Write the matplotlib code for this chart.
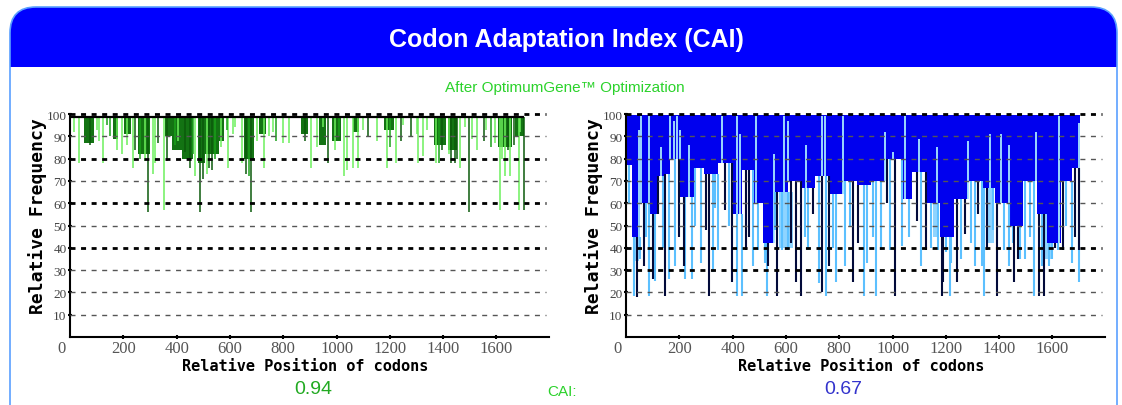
import numpy as np
import matplotlib.pyplot as plt
from matplotlib.patches import FancyBboxPatch, Rectangle
from matplotlib.transforms import IdentityTransform, blended_transform_factory

W, H = 1122, 406

# ---- values ----
x_ticks = [200, 400, 600, 800, 1000, 1200, 1400, 1600]
y_ticks = [10, 20, 30, 40, 50, 60, 70, 80, 90, 100]
cai_optimized = 0.94
cai_native = 0.67

# left panel (after optimization): dense clusters hanging from the top
left_blob_start = [53, 160, 202, 254, 356, 382, 422, 482, 508, 560, 651, 709, 865, 936, 982, 1060, 1177, 1365, 1417, 1606, 1671]
left_blob_end = [91, 179, 228, 300, 382, 422, 462, 508, 560, 579, 690, 735, 891, 962, 1015, 1086, 1216, 1411, 1450, 1658, 1705]
left_blob_low = [87, 89, 91, 82, 90, 84, 80, 78, 82, 88, 80, 91, 91, 86, 88, 92, 93, 86, 84, 85, 90]

# left panel single codons: position, lowest value, shade (d=dark, m=mid, l=light)
left_spike_pos = [293, 351, 488, 680, 1496, 1613, 1684, 1705,
                  33, 124, 176, 196, 235, 261, 319, 332, 404, 449, 469, 521, 534,
                  592, 644, 670, 729, 774, 800, 820, 904, 969, 995, 1028, 1060, 1080,
                  1119, 1190, 1222, 1281, 1307, 1326, 1372, 1385, 1430, 1443, 1463,
                  1528, 1554, 1593, 1632, 1645, 1651,
                  15, 100, 140, 590, 620, 760, 950, 1100, 1250, 1340, 1480, 1560, 1690,
                  75, 110, 150, 215, 245, 280, 310, 365, 395, 430, 460, 500, 515, 545,
                  565, 610, 660, 700, 745, 880, 925, 1010, 1040, 1150, 1200, 1240, 1300,
                  1395, 1420, 1450, 1510, 1580, 1620, 1665]
left_spike_low = [56, 57, 56, 56, 56, 57, 57, 57,
                  78, 78, 84, 82, 76, 80, 78, 87, 88, 76, 72, 76, 75,
                  76, 78, 72, 76, 88, 87, 87, 76, 78, 84, 72, 76, 76,
                  90, 76, 78, 90, 78, 81, 78, 78, 78, 78, 76,
                  84, 88, 87, 72, 84, 72,
                  92, 93, 95, 93, 94, 92, 94, 93, 95, 93, 94, 93, 92,
                  86, 88, 90, 86, 84, 79, 73, 79, 86, 83, 82, 71, 73, 80,
                  85, 91, 73, 88, 90, 88, 85, 90, 75, 88, 85, 88, 91,
                  84, 82, 80, 89, 85, 80, 86]
left_spike_kind = ['d', 'l', 'd', 'd', 'd', 'l', 'l', 'd',
                   'l', 'l', 'l', 'l', 'l', 'm', 'l', 'd', 'l', 'd', 'l', 'd', 'd',
                   'l', 'l', 'm', 'l', 'm', 'l', 'l', 'l', 'd', 'l', 'l', 'l', 'l',
                   'd', 'l', 'l', 'd', 'l', 'l', 'l', 'm', 'd', 'd', 'l',
                   'l', 'd', 'l', 'l', 'd', 'l',
                   'l', 'l', 'm', 'm', 'l', 'l', 'l', 'l', 'l', 'l', 'l', 'l', 'l',
                   'd', 'l', 'm', 'l', 'd', 'l', 'l', 'd', 'm', 'd', 'm', 'd', 'l', 'm',
                   'l', 'l', 'd', 'l', 'l', 'd', 'l', 'm', 'l', 'l', 'm', 'd', 'l',
                   'd', 'l', 'd', 'l', 'm', 'l', 'd']

# right panel (native gene): solid band edges and its lower edge
right_band_edges = [4, 21, 53, 86, 118, 144, 164, 203, 255, 294, 346, 398, 437, 476, 515, 554, 606,
                    658, 710, 762, 814, 866, 918, 970, 1035, 1074, 1126, 1178, 1230, 1282, 1334,
                    1386, 1438, 1490, 1542, 1581, 1633, 1672, 1705]
right_band_low = [77, 45, 60, 55, 72, 73, 80, 63, 76, 73, 78, 55, 75, 60, 42, 65, 70, 67, 72, 64,
                  70, 68, 70, 80, 62, 74, 60, 45, 62, 70, 67, 60, 50, 70, 55, 42, 70, 76]

# right panel pale patches just under the band
right_pale_start = [30, 575, 1150, 1350, 1560]
right_pale_end = [50, 625, 1175, 1380, 1600]
right_pale_low = [34, 40, 45, 42, 35]

# right panel codons dropping below the band
right_down_pos = [31, 40, 53, 66, 86, 101, 109, 148, 161, 183, 216, 222, 248, 281, 313, 326, 346,
                  372, 398, 417, 437, 450, 476, 495, 528, 534, 567, 586, 606, 638, 655, 684, 723,
                  736, 751, 762, 788, 820, 853, 894, 905, 937, 957, 989, 1011, 1035, 1106, 1126,
                  1171, 1184, 1191, 1214, 1221, 1243, 1256, 1308, 1334, 1344, 1353, 1392, 1418,
                  1435, 1457, 1477, 1496, 1529, 1548, 1561, 1570, 1587, 1600, 1620, 1639, 1672,
                  1698, 1700,
                  10, 75, 120, 140, 198, 260, 300, 335, 385, 460, 520, 560, 620, 670, 700, 775,
                  840, 870, 925, 980, 1060, 1090, 1145, 1200, 1270, 1295, 1320, 1375, 1450,
                  1470, 1515, 1610, 1650, 1685]
right_down_low = [18.6, 18, 35, 32, 18.6, 26, 25, 18.6, 26, 32, 32, 26, 26, 33, 18.6, 29, 39,
                  57, 24.5, 18.6, 18.6, 39, 32, 39, 18.6, 32, 18.6, 39, 39, 24.5, 18.6, 39, 24,
                  20, 18.6, 32, 24.5, 32, 24.5, 18.6, 33, 18.6, 39, 39, 18.6, 41, 32, 39,
                  39, 18.6, 24.5, 18.6, 33, 24.5, 35, 32, 32, 18.6, 39, 18.6, 39,
                  32, 24.5, 35, 35, 18.6, 18.6, 32, 18.6, 32, 35, 39, 39, 33,
                  24.5, 39,
                  60, 45, 55, 40, 45, 50, 48, 58, 50, 45, 33, 48, 42, 45, 55, 40,
                  50, 42, 45, 60, 45, 52, 40, 38, 46, 42, 55, 48, 42,
                  35, 45, 40, 50, 45]
right_down_kind = ['l', 'd', 'l', 'd', 'l', 'd', 'l', 'd', 'l', 'l', 'd', 'l', 'l', 'l', 'd', 'l', 'l',
                   'd', 'd', 'l', 'l', 'd', 'l', 'l', 'l', 'd', 'd', 'l', 'l', 'd', 'd', 'l', 'l',
                   'd', 'l', 'd', 'l', 'l', 'd', 'l', 'l', 'l', 'l', 'l', 'd', 'l', 'l', 'd',
                   'l', 'd', 'd', 'l', 'l', 'd', 'l', 'l', 'l', 'l', 'd', 'd', 'l',
                   'l', 'd', 'l', 'l', 'l', 'd', 'l', 'd', 'l', 'l', 'l', 'd', 'l',
                   'l', 'd',
                   'l', 'l', 'd', 'l', 'd', 'l', 'd', 'l', 'l', 'd', 'l', 'l', 'd', 'l', 'd', 'l',
                   'l', 'd', 'l', 'd', 'l', 'd', 'l', 'l', 'd', 'l', 'd', 'l', 'l',
                   'd', 'l', 'd', 'l', 'd']

# right panel codons reaching back up into the band
right_up_pos = [47, 57, 86, 131, 166, 179, 190, 203, 235, 359, 417, 426, 489, 554, 593, 608, 677,
                736, 746, 814, 970, 1002, 1048, 1100, 1165, 1282, 1366, 1405, 1438, 1539, 1626, 1700]
right_up_high = [93, 99, 99, 85, 99, 97, 99, 93, 86, 99, 99, 91, 99, 82, 99, 97, 86,
                 99, 99, 99, 92, 83, 99, 89, 85, 88, 91, 91, 86, 92, 99, 96]

left_bold_grid = [100, 80, 60, 40]
right_bold_grid = [100, 40, 30]

XMAX = 1797
GRID_END = 1785
LEFT_TOP = 98.8
RIGHT_TOP = 99.5

greens = {'d': '#0b5a0b', 'm': '#1aa01a', 'l': '#6cf05c'}
blues = {'d': '#020a3a', 'l': '#5cc0ff'}

mono = ['DejaVu Sans Mono']
serif = ['Liberation Serif', 'DejaVu Serif']
sans = ['Liberation Sans', 'DejaVu Sans']

fig = plt.figure(figsize=(W / 100, H / 100), dpi=100)

# blue banner, white body, light frame outline (all behind the axes)
banner = FancyBboxPatch((10, H - 110), 1107, 102, boxstyle='round,pad=0,rounding_size=26',
                        facecolor='#0000ff', edgecolor='none', transform=IdentityTransform(),
                        zorder=-3)
fig.add_artist(banner)
fig.add_artist(Rectangle((5, -5), 1115, H - 68 + 5, facecolor='white', edgecolor='none',
                         transform=IdentityTransform(), zorder=-2))
frame = FancyBboxPatch((10, -40), 1107, H - 8 + 40, boxstyle='round,pad=0,rounding_size=26',
                       facecolor='none', edgecolor='#5aa0ff', linewidth=1.2,
                       transform=IdentityTransform(), zorder=-1)
fig.add_artist(frame)

fig.text(566 / W, 1 - 40 / H, 'Codon Adaptation Index (CAI)', color='white', fontsize=18,
         fontweight='bold', family=sans, ha='center', va='center')
fig.text(565 / W, 1 - 88 / H, 'After OptimumGene\u2122 Optimization', color='#2bd22b',
         fontsize=11, family=sans, ha='center', va='center')


def setup(ax, bold):
    ax.set_xlim(0, XMAX)
    ax.set_ylim(0, 101)
    ax.patch.set_alpha(0)
    for s in ['top', 'right']:
        ax.spines[s].set_visible(False)
    for s in ['left', 'bottom']:
        ax.spines[s].set_linewidth(1.5)
    ax.spines['left'].set_bounds(0, 100)
    ax.set_xticks(x_ticks)
    ax.set_yticks(y_ticks)
    ax.tick_params(axis='x', length=3, width=1.5, direction='inout', pad=1,
                   labelsize=12, labelcolor='#555555')
    ax.tick_params(axis='y', length=3, width=1.5, direction='inout', pad=1,
                   labelsize=9.5, labelcolor='#444444')
    for lab in ax.get_xticklabels() + ax.get_yticklabels():
        lab.set_family(serif)
    tr = blended_transform_factory(ax.transData, ax.transAxes)
    ax.text(-32, -0.05, '0', transform=tr, ha='center', va='center', fontsize=12,
            color='#555555', family=serif)
    for v in y_ticks:
        if v in bold:
            ax.axhline(v, xmin=0, xmax=GRID_END / XMAX, color='black', linewidth=2.0,
                       dashes=(1.8, 2.0), zorder=5)
        else:
            ax.axhline(v, xmin=0, xmax=GRID_END / XMAX, color='#555555', linewidth=1.0,
                       dashes=(3.6, 4.0), zorder=5)
    ax.set_ylabel('Relative Frequency', family=mono, fontweight='bold', fontsize=13, va='center')
    ax.yaxis.set_label_coords(-32 / 479, 0.54)
    ax.set_xlabel('Relative Position of codons', family=mono, fontweight='bold', fontsize=11,
                  va='center')
    ax.xaxis.set_label_coords(0.49, -28 / 225)


ax_h = (338 - 112.8) / H
axL = fig.add_axes([70 / W, 1 - 338 / H, 479 / W, ax_h])
axR = fig.add_axes([626 / W, 1 - 338 / H, 479 / W, ax_h])
setup(axL, left_bold_grid)
setup(axR, right_bold_grid)

# left panel
bs = np.array(left_blob_start)
be = np.array(left_blob_end)
bl = np.array(left_blob_low)
axL.bar(bs, LEFT_TOP - bl, bottom=bl, width=be - bs, align='edge', color='#137313',
        linewidth=0, zorder=2)
for k in ['l', 'm', 'd']:
    pos = [p for p, kk in zip(left_spike_pos, left_spike_kind) if kk == k]
    low = [v for v, kk in zip(left_spike_low, left_spike_kind) if kk == k]
    axL.vlines(pos, low, LEFT_TOP, colors=greens[k], linewidth=1.1, zorder=3)
axL.hlines(LEFT_TOP, 0, 1705, colors='black', linewidth=1.6, zorder=4)

# right panel
edges = np.array(right_band_edges)
low = np.array(right_band_low)
ps = np.array(right_pale_start)
pe = np.array(right_pale_end)
pl = np.array(right_pale_low)
pale_top = low[np.clip(np.searchsorted(edges, ps) - 1, 0, len(low) - 1)]
axR.bar(ps, pale_top - pl, bottom=pl, width=pe - ps, align='edge', color='#8fd4ff',
        linewidth=0, zorder=1.5)
axR.bar(edges[:-1], RIGHT_TOP - low, bottom=low, width=np.diff(edges), align='edge',
        color='#0000ee', linewidth=0, zorder=2)
up_base = low[np.clip(np.searchsorted(edges, right_up_pos) - 1, 0, len(low) - 1)]
axR.vlines(right_up_pos, up_base, right_up_high, colors='#a8e8ff', linewidth=1.3, zorder=3)
down_base = low[np.clip(np.searchsorted(edges, right_down_pos) - 1, 0, len(low) - 1)]
for k in ['l', 'd']:
    sel = [i for i, kk in enumerate(right_down_kind) if kk == k]
    axR.vlines(np.array(right_down_pos)[sel], np.array(right_down_low)[sel], down_base[sel],
               colors=blues[k], linewidth=1.5, zorder=3)

# CAI values
fig.text(313 / W, 1 - 390 / H, f'{cai_optimized:.2f}', color='#22aa22', fontsize=14,
         family=sans, ha='center', va='center')
fig.text(562 / W, 1 - 392 / H, 'CAI:', color='#2bd22b', fontsize=11, family=sans,
         ha='center', va='center')
fig.text(843 / W, 1 - 390 / H, f'{cai_native:.2f}', color='#3333cc', fontsize=14,
         family=sans, ha='center', va='center')

fig.savefig('out.png', dpi=100)
